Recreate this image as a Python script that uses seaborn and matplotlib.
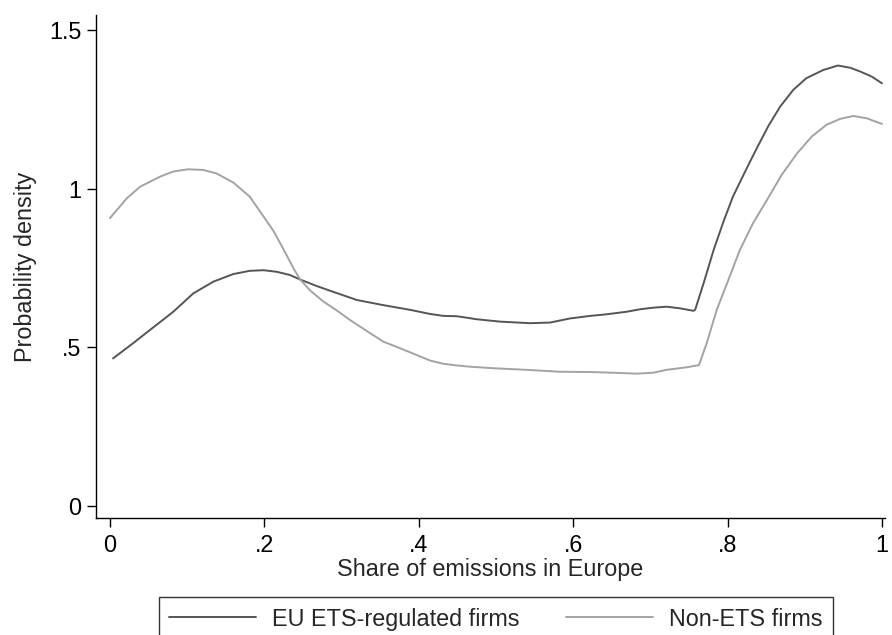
"""Kernel density of share of emissions in Europe, ETS vs non-ETS firms"""
import pandas as pd
import seaborn as sns
import matplotlib
matplotlib.use('Agg')
import matplotlib.pyplot as plt

# values
ets_x = [0.004, 0.030, 0.052, 0.082, 0.108, 0.134, 0.160, 0.181, 0.199, 0.216,
         0.233, 0.246, 0.268, 0.289, 0.320, 0.354, 0.389, 0.415, 0.432, 0.449,
         0.466, 0.473, 0.505, 0.544, 0.570, 0.596, 0.622, 0.643, 0.669, 0.687,
         0.704, 0.721, 0.738, 0.756, 0.758, 0.769, 0.782, 0.795, 0.807, 0.823,
         0.838, 0.853, 0.868, 0.885, 0.902, 0.924, 0.943, 0.959, 0.972, 0.987,
         1.0]
ets_y = [0.465, 0.513, 0.555, 0.612, 0.670, 0.707, 0.731, 0.741, 0.743, 0.738,
         0.728, 0.714, 0.693, 0.675, 0.649, 0.633, 0.618, 0.605, 0.599, 0.598,
         0.592, 0.589, 0.581, 0.576, 0.578, 0.591, 0.599, 0.604, 0.612, 0.620,
         0.625, 0.628, 0.623, 0.615, 0.618, 0.702, 0.807, 0.898, 0.975, 1.055,
         1.128, 1.198, 1.258, 1.311, 1.348, 1.374, 1.388, 1.381, 1.369, 1.353,
         1.332]

non_x = [0.0, 0.022, 0.039, 0.065, 0.082, 0.101, 0.121, 0.138, 0.160, 0.181,
         0.201, 0.212, 0.225, 0.238, 0.246, 0.259, 0.276, 0.294, 0.311, 0.333,
         0.354, 0.376, 0.397, 0.415, 0.432, 0.449, 0.466, 0.497, 0.540, 0.583,
         0.626, 0.661, 0.682, 0.704, 0.721, 0.747, 0.763, 0.773, 0.786, 0.801,
         0.816, 0.833, 0.851, 0.870, 0.890, 0.909, 0.928, 0.946, 0.963, 0.980,
         1.0]
non_y = [0.907, 0.970, 1.006, 1.038, 1.054, 1.061, 1.059, 1.048, 1.019, 0.975,
         0.905, 0.866, 0.808, 0.748, 0.715, 0.680, 0.645, 0.616, 0.586, 0.551,
         0.518, 0.497, 0.476, 0.458, 0.448, 0.443, 0.439, 0.434, 0.429, 0.423,
         0.422, 0.419, 0.417, 0.420, 0.429, 0.437, 0.444, 0.513, 0.618, 0.712,
         0.807, 0.891, 0.964, 1.043, 1.111, 1.164, 1.201, 1.220, 1.229, 1.222,
         1.204]

labels = ['EU ETS-regulated firms', 'Non-ETS firms']
x_ticks = [0, 0.2, 0.4, 0.6, 0.8, 1]
x_ticklabels = ['0', '.2', '.4', '.6', '.8', '1']
y_ticks = [0, 0.5, 1, 1.5]
y_ticklabels = ['0', '.5', '1', '1.5']

df = pd.concat([
    pd.DataFrame({'share': ets_x, 'density': ets_y, 'group': labels[0]}),
    pd.DataFrame({'share': non_x, 'density': non_y, 'group': labels[1]}),
])

sns.set_style('ticks')
plt.rcParams['font.family'] = ['Liberation Sans', 'DejaVu Sans']
fs = 16.8

fig = plt.figure(figsize=(8.92, 6.35), dpi=100)
ax = fig.add_axes([0.1076, 0.1843, 0.8845, 0.7921])
sns.lineplot(data=df, x='share', y='density', hue='group', sort=False,
             palette=['#555555', '#a3a3a3'], linewidth=1.4, ax=ax)

ax.set_xlim(-0.0181, 1.0039)
ax.set_ylim(-0.0378, 1.5473)
ax.set_xticks(x_ticks)
ax.set_xticklabels(x_ticklabels)
ax.set_yticks(y_ticks)
ax.set_yticklabels(y_ticklabels)
ax.tick_params(direction='out', length=6.5, width=1, color='black',
               labelsize=fs, labelcolor='black')
ax.tick_params(axis='x', pad=5)
ax.tick_params(axis='y', pad=4)
ax.set_xlabel('Share of emissions in Europe', fontsize=fs, labelpad=1)
ax.set_ylabel('Probability density', fontsize=fs, labelpad=9)
sns.despine(ax=ax)
for s in ['left', 'bottom']:
    ax.spines[s].set_color('black')
    ax.spines[s].set_linewidth(1)

handles, lab = ax.get_legend_handles_labels()
ax.get_legend().remove()
leg = fig.legend(handles, lab, ncol=2, loc='upper center',
                 bbox_to_anchor=(0.556, 0.0598), fontsize=fs, frameon=True,
                 fancybox=False, edgecolor='black', handlelength=3.7,
                 handletextpad=0.7, columnspacing=2.0, borderpad=0.45,
                 borderaxespad=0)
leg.get_frame().set_linewidth(1)

plt.savefig('out.png', dpi=100)
plt.close('all')
